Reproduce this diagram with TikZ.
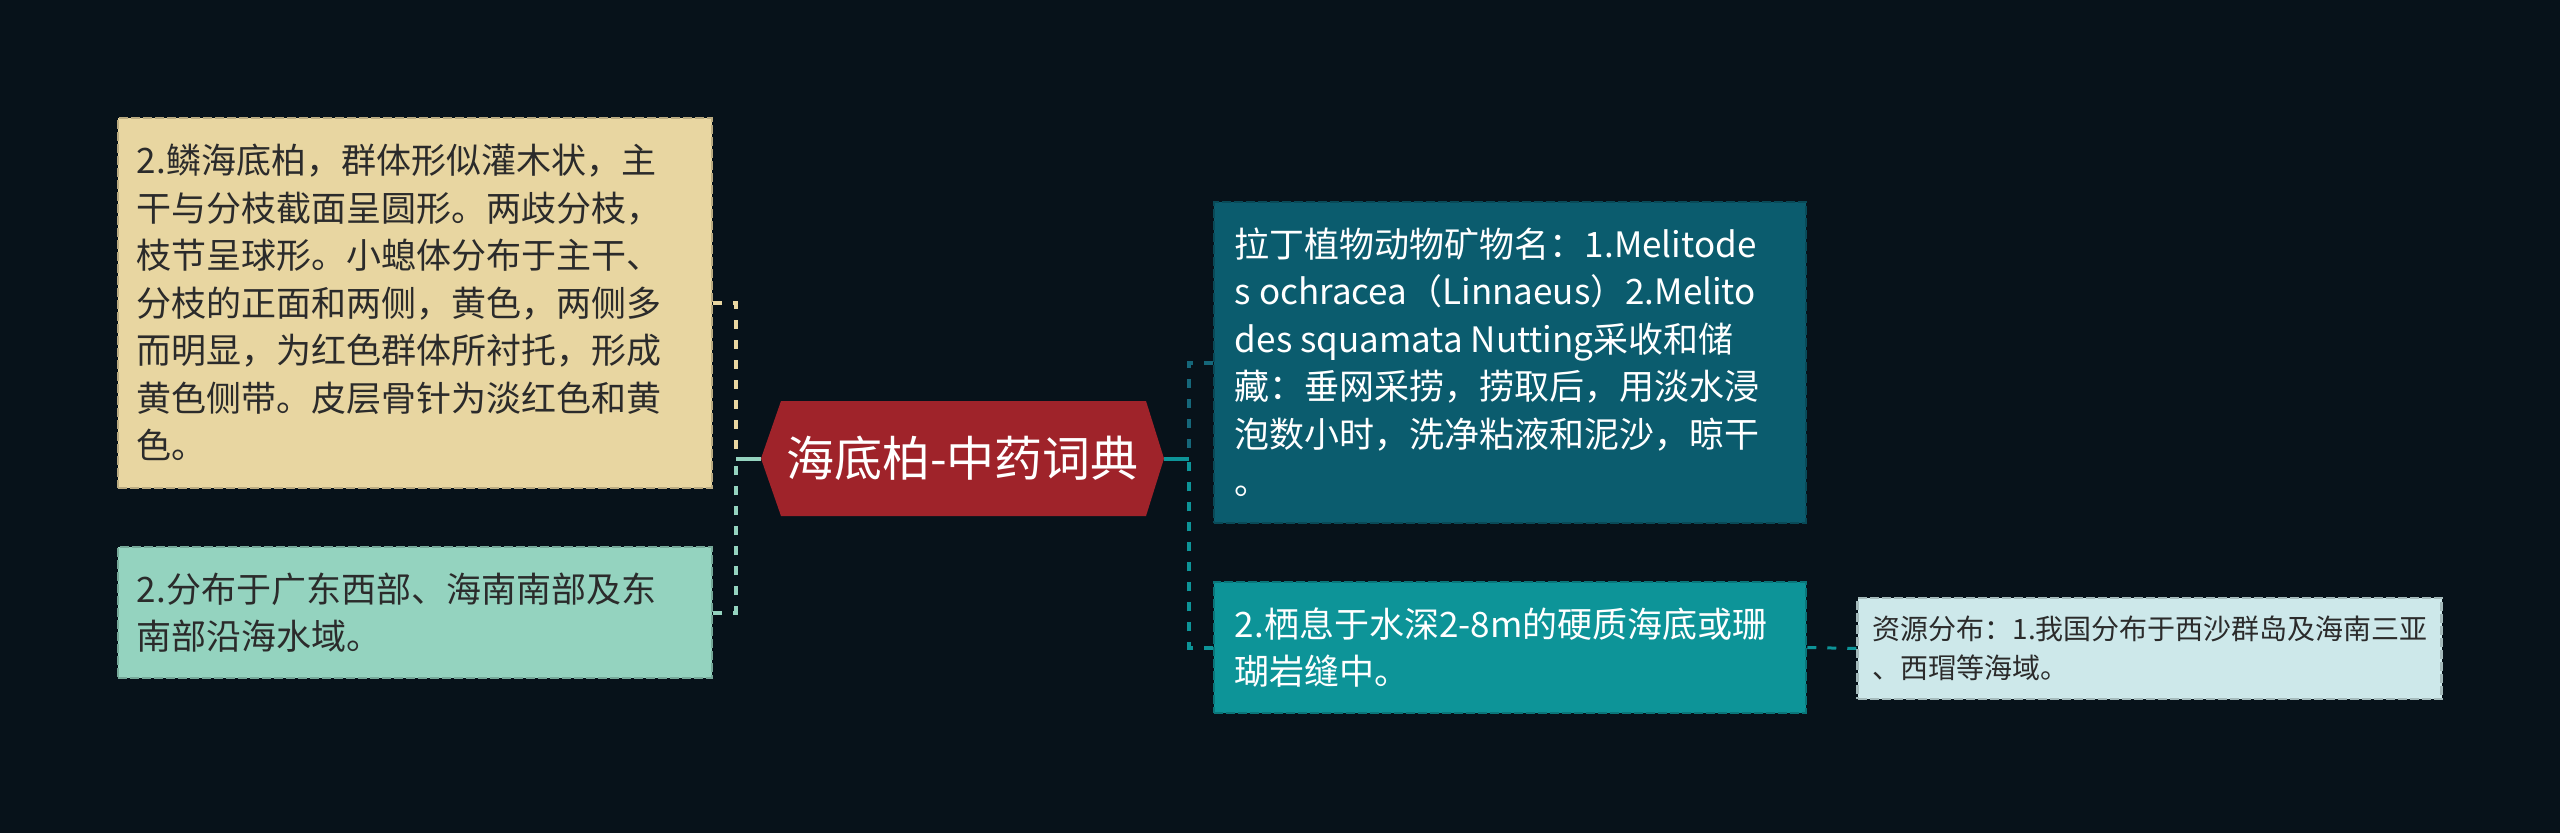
\documentclass[tikz,border=0pt]{standalone}
\usepackage{fontspec}
\setmainfont{Noto Sans CJK SC}
\usetikzlibrary{calc}
\definecolor{bg}{HTML}{07121A}
\definecolor{cYel}{HTML}{E8D6A1}
\definecolor{cGrn}{HTML}{94D3BF}
\definecolor{cBlue}{HTML}{0B5C6E}
\definecolor{cBlueLine}{HTML}{15677A}
\definecolor{cTeal}{HTML}{0D9498}
\definecolor{cLight}{HTML}{CDE8EA}
\definecolor{cRed}{HTML}{9F232A}
\definecolor{cDark}{HTML}{2B2B2B}
\newcommand{\strutbig}{\rule[-10.5pt]{0pt}{47.5pt}}
\newcommand{\strutsmall}{\rule[-8.85pt]{0pt}{39pt}}
\tikzset{
  card/.style={rectangle, fill=#1, draw=#1!80!black, line width=2.5pt, dash pattern=on 9pt off 3pt, inner sep=0pt},
  bigtxt/.style={anchor=west, align=left, inner sep=0pt, font=\fontsize{35pt}{47.5pt}\selectfont},
  smalltxt/.style={anchor=west, align=left, inner sep=0pt, font=\fontsize{28pt}{39pt}\selectfont},
  brk/.style={draw=#1, line width=4pt, dash pattern=on 9pt off 11pt},
  trunk/.style={draw=#1, line width=4pt}
}
\begin{document}
\begin{tikzpicture}[x=1pt,y=-1pt]
\fill[bg] (0,0) rectangle (2560,833);
\useasboundingbox (0,0) rectangle (2560,833);

% central hexagon
\coordinate (hL) at (761,458.5);
\coordinate (hTL) at (781,401);
\coordinate (hTR) at (1146,401);
\coordinate (hR) at (1164,458.5);
\coordinate (hBR) at (1146,516);
\coordinate (hBL) at (781,516);
\fill[cRed] (hL) -- (hTL) -- (hTR) -- (hR) -- (hBR) -- (hBL) -- cycle;
\node[minimum width=403pt, minimum height=115pt, inner sep=0pt, outer sep=0pt, text=white,
      font=\fontsize{48pt}{56pt}\selectfont] (hub) at (962.5,458.5) {海底柏-中药词典};

% left cards
\node[card=cYel, minimum width=594pt, minimum height=370pt] (ybox) at (415,303) {};
\node[bigtxt, text=cDark] (ytext) at ($(ybox.west)+(20,0)$) {\strutbig 2.鳞海底柏，群体形似灌木状，主\\
\strutbig 干与分枝截面呈圆形。两歧分枝，\\
\strutbig 枝节呈球形。小螅体分布于主干、\\
\strutbig 分枝的正面和两侧，黄色，两侧多\\
\strutbig 而明显，为红色群体所衬托，形成\\
\strutbig 黄色侧带。皮层骨针为淡红色和黄\\
\strutbig 色。};

\node[card=cGrn, minimum width=594pt, minimum height=131pt] (gbox) at (415,612.5) {};
\node[bigtxt, text=cDark] (gtext) at ($(gbox.west)+(20,0)$) {\strutbig 2.分布于广东西部、海南南部及东\\
\strutbig 南部沿海水域。};

% right cards
\node[card=cBlue, minimum width=592pt, minimum height=321pt] (bbox) at (1510,362.5) {};
\node[bigtxt, text=white] (btext) at ($(bbox.west)+(22,0)$) {\strutbig 拉丁植物动物矿物名：1.Melitode\\
\strutbig s ochracea（Linnaeus）2.Melito\\
\strutbig des squamata Nutting采收和储\\
\strutbig 藏：垂网采捞，捞取后，用淡水浸\\
\strutbig 泡数小时，洗净粘液和泥沙，晾干\\
\strutbig 。};

\node[card=cTeal, minimum width=592pt, minimum height=131pt] (tbox) at (1510,647.5) {};
\node[bigtxt, text=white] (ttext) at ($(tbox.west)+(22,0)$) {\strutbig 2.栖息于水深2-8m的硬质海底或珊\\
\strutbig 瑚岩缝中。};

\node[card=cLight, minimum width=584pt, minimum height=101pt] (lbox) at (2149.5,648.5) {};
\node[smalltxt, text=cDark] (ltext) at ($(lbox.west)+(16,0)$) {\strutsmall 资源分布：1.我国分布于西沙群岛及海南三亚\\
\strutsmall 、西瑁等海域。};

% connectors left
\coordinate (lj) at ($(hub.west)+(-25,0)$);
\draw[trunk=cGrn] (hub.west) -- (lj);
\draw[brk=cYel] (ybox.east) -| (lj);
\draw[brk=cGrn] (gbox.east) -| (lj);

% connectors right
\coordinate (rj) at ($(hub.east)+(25,0)$);
\draw[trunk=cTeal] (hub.east) -- (rj);
\draw[brk=cBlueLine] (bbox.west) -| (rj);
\draw[brk=cTeal] (tbox.west) -| (rj);
\draw[brk=cTeal, line width=3pt] (tbox.east) -- (lbox.west);
\end{tikzpicture}
\end{document}
